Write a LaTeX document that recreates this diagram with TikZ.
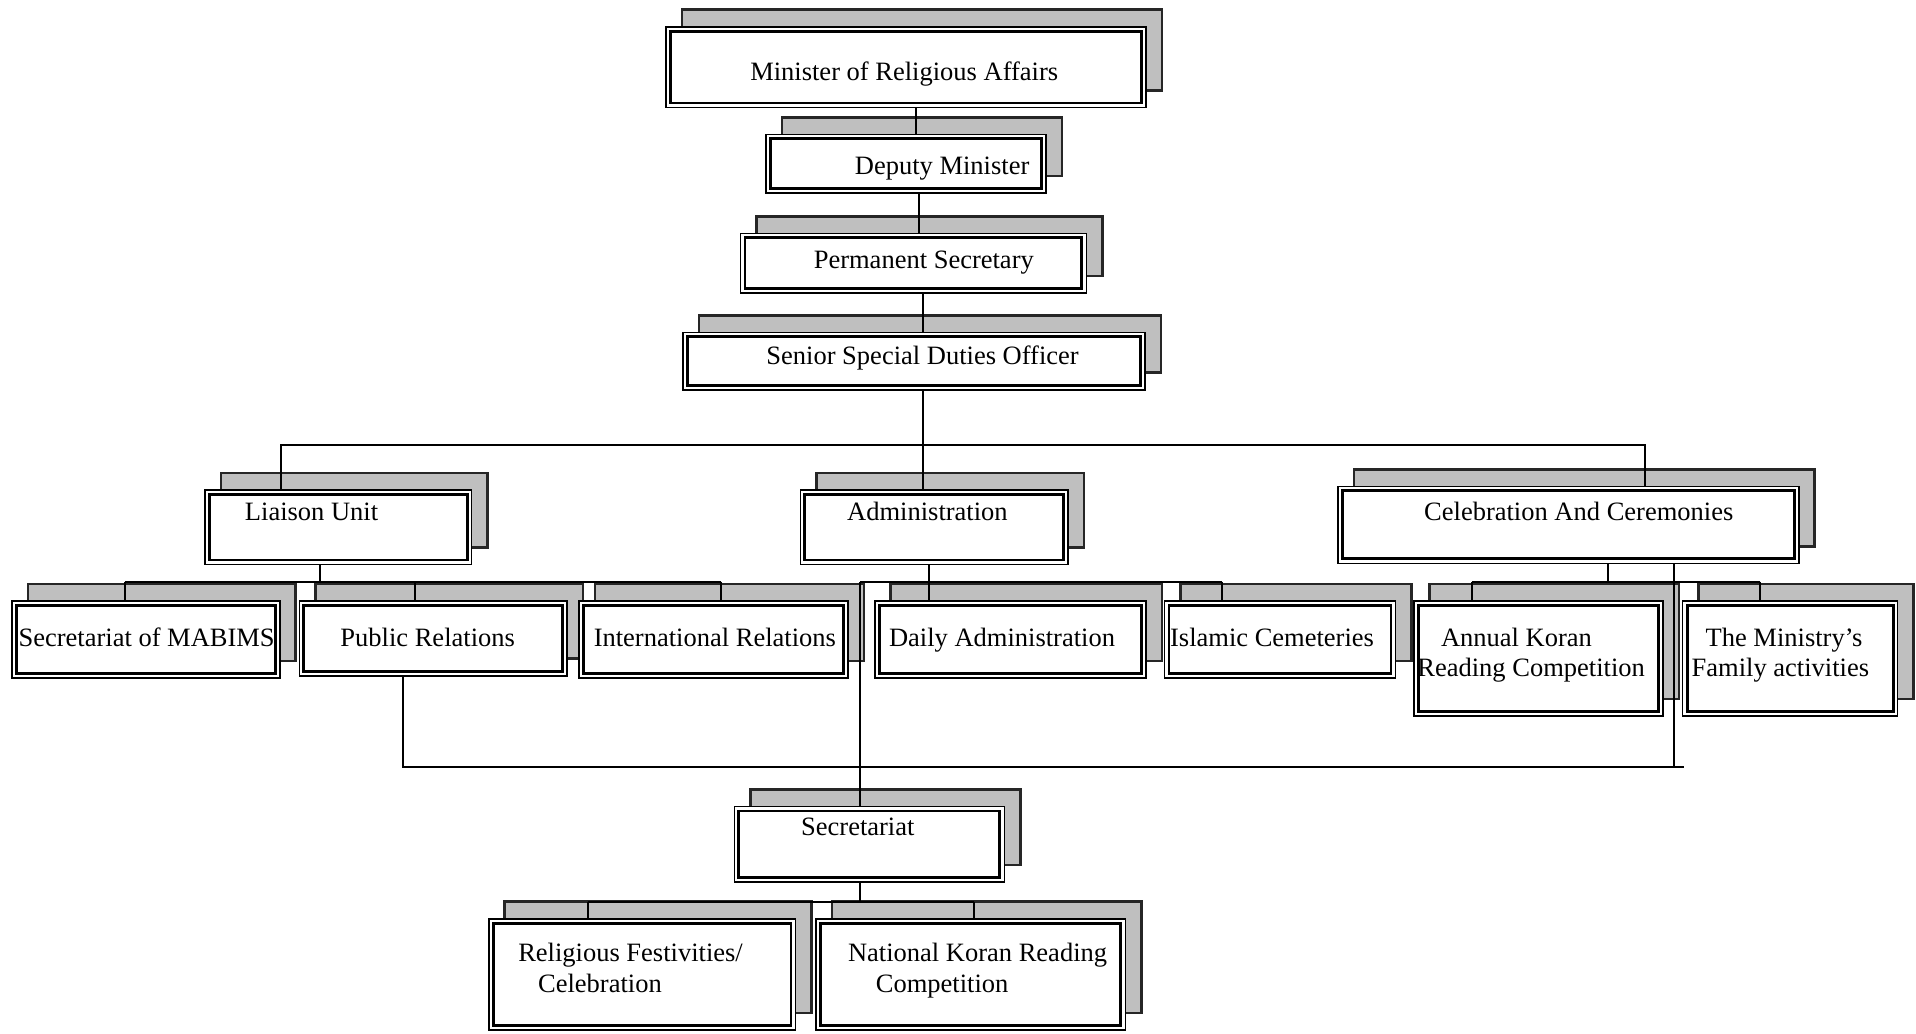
\documentclass[tikz,border=0pt]{standalone}
\usepackage{fontspec}
\setmainfont{Liberation Serif}
\usetikzlibrary{fit,calc}
\pgfdeclarelayer{bglayer}
\pgfdeclarelayer{shadowlayer}
\pgfdeclarelayer{connlayer}
\pgfsetlayers{bglayer,shadowlayer,connlayer,main}
\tikzset{
  orgbox/.style={draw=black, fill=white, line width=0.6pt, inner sep=0pt},
  innerline/.style={draw=black, line width=1.1pt},
  shadowbox/.style={fill=black!25, draw=black!85, line width=1pt},
  lbl/.style={font=\fontsize{10}{12}\selectfont, anchor=base, inner sep=0pt},
  conn/.style={draw=black, line width=0.75pt}
}
\newcommand\orgnode[5]{%
  \begin{pgfonlayer}{shadowlayer}
    \draw[shadowbox] (#2+13,#3-14) rectangle (#4+13,#5-14);
  \end{pgfonlayer}
  \node[orgbox, fit={(#2,#3) (#4,#5)}] (#1) {};
  \draw[innerline] ([shift={(2pt,-2pt)}]#1.north west) rectangle ([shift={(-2pt,2pt)}]#1.south east);
}
\begin{document}
\begin{tikzpicture}[x=0.0162cm, y=-0.0162cm]
\begin{pgfonlayer}{bglayer}
  \fill[white] (0,0) rectangle (1568,846);
\end{pgfonlayer}
\useasboundingbox (0,0) rectangle (1568,846);

% boxes
\orgnode{min}{545}{22}{938}{88}
\orgnode{dep}{627}{110}{856}{158}
\orgnode{perm}{606}{191}{889}{240}
\orgnode{sen}{559}{272}{937}{319}
\orgnode{lia}{168}{401}{386}{462}
\orgnode{adm}{655}{401}{874}{462}
\orgnode{cel}{1095}{398}{1472}{461}
\orgnode{mab}{10}{492}{229}{555}
\orgnode{pub}{245}{492}{464}{553}
\orgnode{int}{474}{492}{694}{555}
\orgnode{day}{716}{492}{938}{555}
\orgnode{isl}{953}{492}{1142}{555}
\orgnode{ann}{1157}{492}{1361}{586}
\orgnode{fam}{1377}{492}{1553}{586}
\orgnode{sec}{601}{660}{822}{722}
\orgnode{rel}{400}{752}{651}{843}
\orgnode{nat}{668}{752}{921}{843}

% labels
\node[lbl] (tmin) at (740,66) {Minister of Religious Affairs};
\node[lbl] (tdep) at (771,143) {Deputy Minister};
\node[lbl] (tperm) at (756,220) {Permanent Secretary};
\node[lbl] (tsen) at (755,298) {Senior Special Duties Officer};
\node[lbl] (tlia) at (255,426) {Liaison Unit};
\node[lbl] (tadm) at (759,426) {Administration};
\node[lbl] (tcel) at (1292,426) {Celebration And Ceremonies};
\node[lbl] (tmab) at (120,529) {Secretariat of MABIMS};
\node[lbl] (tpub) at (350,529) {Public Relations};
\node[lbl] (tint) at (585,529) {International Relations};
\node[lbl] (tday) at (820,529) {Daily Administration};
\node[lbl] (tisl) at (1041,529) {Islamic Cemeteries};
\node[lbl] (tann1) at (1241,529) {Annual Koran};
\node[lbl] (tann2) at (1253,554) {Reading Competition};
\node[lbl] (tfam1) at (1460,529) {The Ministry's};
\node[lbl] (tfam2) at (1457,554) {Family activities};
\node[lbl] (tsec) at (702,684) {Secretariat};
\node[lbl] (trel1) at (516,787) {Religious Festivities/};
\node[lbl] (trel2) at (491,812) {Celebration};
\node[lbl] (tnat1) at (800,787) {National Koran Reading};
\node[lbl] (tnat2) at (771,812) {Competition};

% helper coordinates
\coordinate (xa) at (750,0);
\coordinate (xb) at (752,0);
\coordinate (xc) at (755,0);
\coordinate (j1) at (755,364);
\coordinate (xl) at (230,0);
\coordinate (xr) at (1346,0);
\coordinate (h3) at (0,476);
\coordinate (h4) at (0,628);
\coordinate (h5) at (0,738);
\coordinate (x262) at (262,0);
\coordinate (x102) at (102,0);
\coordinate (x340) at (340,0);
\coordinate (x590) at (590,0);
\coordinate (x760) at (760,0);
\coordinate (x704) at (704,0);
\coordinate (x1000) at (1000,0);
\coordinate (x1316) at (1316,0);
\coordinate (x1205) at (1205,0);
\coordinate (x1440) at (1440,0);
\coordinate (x330) at (330,0);
\coordinate (x1370) at (1370,0);
\coordinate (x1378) at (1378,0);
\coordinate (x481) at (481,0);
\coordinate (x797) at (797,0);

\begin{pgfonlayer}{connlayer}
  \draw[conn] (min.south -| xa) -- (dep.north -| xa);
  \draw[conn] (dep.south -| xb) -- (perm.north -| xb);
  \draw[conn] (perm.south -| xc) -- (sen.north -| xc);
  \draw[conn] (sen.south -| xc) -- (j1);
  \draw[conn] (lia.north -| xl) -- (xl |- j1) -- (xr |- j1) -- (cel.north -| xr);
  \draw[conn] (j1) -- (adm.north -| j1);
  % liaison children
  \draw[conn] (lia.south -| x262) -- (x262 |- h3);
  \draw[conn] (x102 |- h3) -- (x590 |- h3);
  \draw[conn] (x102 |- h3) -- (mab.north -| x102);
  \draw[conn] (x340 |- h3) -- (pub.north -| x340);
  \draw[conn] (x590 |- h3) -- (int.north -| x590);
  % administration children
  \draw[conn] (adm.south -| x760) -- (day.north -| x760);
  \draw[conn] (x704 |- h3) -- (x1000 |- h3);
  \draw[conn] (x1000 |- h3) -- (isl.north -| x1000);
  \draw[conn] (x704 |- h3) -- (sec.north -| x704);
  % celebration children
  \draw[conn] (cel.south -| x1316) -- (x1316 |- h3);
  \draw[conn] (x1205 |- h3) -- (x1440 |- h3);
  \draw[conn] (x1205 |- h3) -- (ann.north -| x1205);
  \draw[conn] (x1440 |- h3) -- (fam.north -| x1440);
  % cross link
  \draw[conn] (pub.south -| x330) -- (x330 |- h4) -- (x1378 |- h4);
  \draw[conn] (cel.south -| x1370) -- (x1370 |- h4);
  % secretariat children
  \draw[conn] (sec.south -| x704) -- (x704 |- h5);
  \draw[conn] (x481 |- h5) -- (x797 |- h5);
  \draw[conn] (x481 |- h5) -- (rel.north -| x481);
  \draw[conn] (x797 |- h5) -- (nat.north -| x797);
\end{pgfonlayer}
\end{tikzpicture}
\end{document}
